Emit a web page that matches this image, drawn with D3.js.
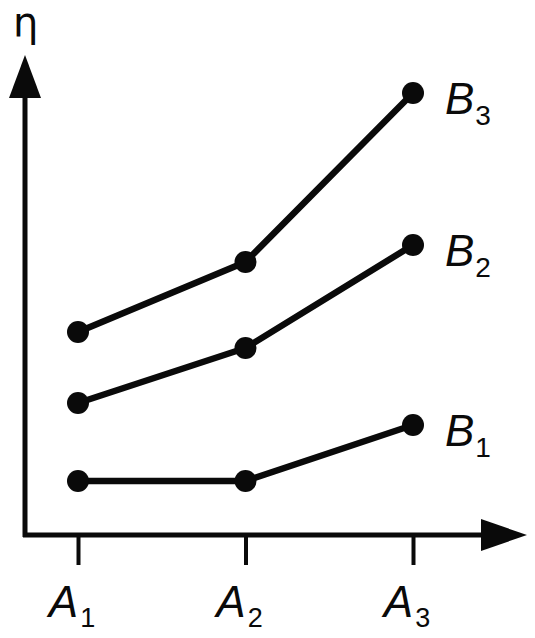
<!DOCTYPE html>
<html><head><meta charset="utf-8">
<script src="https://cdn.jsdelivr.net/npm/d3@7"></script>
<style>html,body{margin:0;padding:0;background:#fff;}svg{display:block;}</style>
</head><body>
<svg id="c" width="535" height="638"></svg>
<script>
const categories = ["A1", "A2", "A3"];
const catSubs = ["1", "2", "3"];
const seriesNames = ["B1", "B2", "B3"];
const seriesSubs = ["1", "2", "3"];
const B1 = [10.8, 10.8, 22];
const B2 = [26.4, 37.4, 58];
const B3 = [40.6, 54.6, 88.4];
const seriesValues = [B1, B2, B3];

const svg = d3.select("#c");
const x = d3.scalePoint().domain(categories).range([78, 413]);
const y = d3.scaleLinear().domain([0, 100]).range([535, 35]);
const ink = "#0a0a0a";
const font = "'Liberation Sans', Arial, Helvetica, sans-serif";

// axes
const x0 = 25, y0 = y(0);
svg.append("line").attr("x1", x0).attr("y1", y0 + 2).attr("x2", x0).attr("y2", 90)
  .attr("stroke", ink).attr("stroke-width", 5);
svg.append("path").attr("d", `M${x0},55 L${x0-16},98 L${x0+16},98 Z`).attr("fill", ink);
svg.append("line").attr("x1", x0 - 2).attr("y1", y0).attr("x2", 490).attr("y2", y0)
  .attr("stroke", ink).attr("stroke-width", 5);
svg.append("path").attr("d", `M527,${y0} L481,${y0-16} L481,${y0+16} Z`).attr("fill", ink);

// ticks via d3 axis
const xAxis = d3.axisBottom(x).tickSize(30).tickFormat("");
const gx = svg.append("g").attr("transform", `translate(0,${y0})`).call(xAxis);
gx.select(".domain").remove();
gx.selectAll(".tick line").attr("stroke", ink).attr("stroke-width", 4);

categories.forEach((c, i) => {
  const t = svg.append("text").attr("x", x(c) - 6).attr("y", 617)
    .attr("text-anchor", "middle").attr("font-family", font).attr("font-style", "italic")
    .attr("font-size", 44).attr("fill", ink);
  t.append("tspan").text(c[0]);
  t.append("tspan").attr("font-size", 27).attr("font-style", "normal").attr("dy", 10).attr("dx", 2).text(catSubs[i]);
});

// y label
svg.append("text").attr("x", 13).attr("y", 36).attr("font-family", "'DejaVu Sans', sans-serif")
  .attr("font-size", 40).attr("fill", ink).text("η");

// lines + dots
const line = d3.line().x((d, i) => x(categories[i])).y(d => y(d));
seriesValues.forEach((vals, s) => {
  svg.append("path").attr("d", line(vals)).attr("fill", "none")
    .attr("stroke", ink).attr("stroke-width", 6.5).attr("stroke-linejoin", "round");
  svg.selectAll(null).data(vals).enter().append("circle")
    .attr("cx", (d, i) => x(categories[i])).attr("cy", d => y(d)).attr("r", 11).attr("fill", ink);
  const last = vals[vals.length - 1];
  const t = svg.append("text").attr("x", 445).attr("y", y(last) + 21)
    .attr("font-family", font).attr("font-style", "italic").attr("font-size", 44).attr("fill", ink);
  t.append("tspan").text(seriesNames[s][0]);
  t.append("tspan").attr("font-size", 28).attr("font-style", "normal").attr("dy", 11).attr("dx", 1).text(seriesSubs[s]);
});
</script>
</body></html>
